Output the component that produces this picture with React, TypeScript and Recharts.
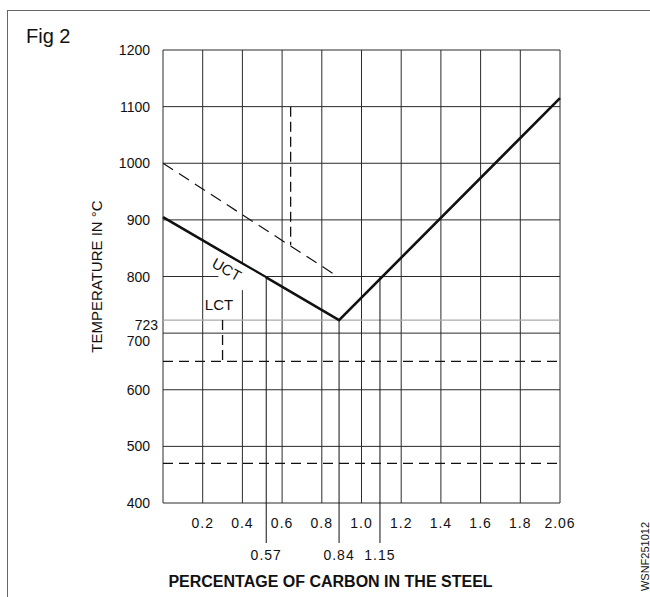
import { LineChart, Line, XAxis, YAxis } from 'recharts';

// grid positions (x is the drawn scale: right edge is labelled 2.06)
const gridX = [0, 0.2, 0.4, 0.6, 0.8, 1.0, 1.2, 1.4, 1.6, 1.8, 2.0];
const xTickLabels = ['0.2', '0.4', '0.6', '0.8', '1.0', '1.2', '1.4', '1.6', '1.8', '2.06'];
const gridY = [400, 500, 600, 700, 800, 900, 1000, 1100, 1200];
const lowerCritical = 723;

// marker lines dropping below the axis
const markerX = [0.52, 0.887, 1.093];
const markerLabels = ['0.57', '0.84', '1.15'];
const markerTop = [800, 723, 800];

// upper critical temperature line
const uctX = [0, 0.887, 2.0];
const uctY = [905, 723, 1115];

// dashed lines
const slopeX = [0, 0.88];
const slopeY = [1000, 800];
const dropX = 0.643;
const dropY = [1100, 855];
const lctX = 0.3;
const lctY = [723, 650];
const dashedLevels = [650, 470];

const uctLabelPos = { x: 0.32, y: 812 };
const lctLabelPos = { x: 0.282, y: 750 };

const FONT = '"Liberation Sans", Arial, Helvetica, sans-serif';
const INK = '#111';
const GRID = '#2a2a2a';

const seg = (x1: number, y1: number, x2: number, y2: number) => [
  { x: x1, y: y1 },
  { x: x2, y: y2 },
];

function YTick(props: any) {
  const { x, y, payload } = props;
  const v = payload.value;
  const dx = v === lowerCritical ? 8 : 0;
  const dy = v === lowerCritical ? 5 : v === 700 ? 8 : 0;
  return (
    <text x={x + dx} y={y + dy + 5} textAnchor="end" fontSize={14} fill={INK} fontFamily={FONT}>
      {v}
    </text>
  );
}

function XTick(props: any) {
  const { x, y, payload } = props;
  const v = payload.value;
  const mi = markerX.indexOf(v);
  if (mi >= 0) {
    return (
      <g>
        <line x1={x} x2={x} y1={y} y2={y + 40} stroke={INK} strokeWidth={1} />
        <text x={x} y={y + 57} textAnchor="middle" fontSize={14} fill={INK} fontFamily={FONT} letterSpacing={1}>
          {markerLabels[mi]}
        </text>
      </g>
    );
  }
  const gi = gridX.indexOf(v);
  if (gi <= 0) return null;
  return (
    <text x={x} y={y + 25} textAnchor="middle" fontSize={14} fill={INK} fontFamily={FONT} letterSpacing={1}>
      {xTickLabels[gi - 1]}
    </text>
  );
}

function UctLabel(props: any) {
  const { cx, cy } = props;
  if (cx == null || cy == null) return null;
  return (
    <g transform={`translate(${cx},${cy}) rotate(29.5)`}>
      <rect x={-20} y={-12} width={58} height={22} fill="#fff" />
      <text x={0} y={5} textAnchor="middle" fontSize={15} fill={INK} fontFamily={FONT}>
        UCT
      </text>
    </g>
  );
}

function LctLabel(props: any) {
  const { cx, cy } = props;
  if (cx == null || cy == null) return null;
  return (
    <text x={cx} y={cy + 5} textAnchor="middle" fontSize={15} fill={INK} fontFamily={FONT}>
      LCT
    </text>
  );
}

const common = {
  type: 'linear' as const,
  dataKey: 'y',
  isAnimationActive: false,
  dot: false,
  activeDot: false,
  legendType: 'none' as const,
};

export default function App() {
  return (
    <div style={{ position: 'absolute', left: 0, top: 0, width: 650, height: 597, overflow: 'hidden', background: '#fff' }}>
      <div
        style={{
          position: 'absolute',
          left: 7,
          top: 10,
          width: 700,
          height: 700,
          borderTop: '1px solid #666',
          borderLeft: '1px solid #666',
        }}
      />
      <div style={{ position: 'absolute', left: 0, top: 0 }}>
        <LineChart width={650} height={597} margin={{ top: 50, right: 90, bottom: 14, left: 113 }}>
          <XAxis
            dataKey="x"
            type="number"
            domain={[0, 2]}
            ticks={[...gridX.slice(1), ...markerX]}
            interval={0}
            tick={<XTick />}
            tickLine={false}
            axisLine={false}
            tickSize={0}
            tickMargin={0}
            height={80}
          />
          <YAxis
            type="number"
            domain={[400, 1200]}
            ticks={[...gridY, lowerCritical]}
            interval={0}
            tick={<YTick />}
            tickLine={false}
            axisLine={false}
            tickSize={0}
            tickMargin={13}
            width={50}
          />

          {gridX.map((gx) => (
            <Line key={`gx${gx}`} {...common} data={seg(gx, 400, gx, 1200)} stroke={GRID} strokeWidth={1} />
          ))}
          {gridY.map((gy) => (
            <Line key={`gy${gy}`} {...common} data={seg(0, gy, 2, gy)} stroke={GRID} strokeWidth={1} />
          ))}
          <Line {...common} data={seg(0, lowerCritical, 2, lowerCritical)} stroke="#aaa" strokeWidth={1.2} />

          {dashedLevels.map((lv) => (
            <Line key={`lv${lv}`} {...common} data={seg(0, lv, 2, lv)} stroke={INK} strokeWidth={1.2} strokeDasharray="10 6" />
          ))}

          {markerX.map((mx, i) => (
            <Line key={`mk${mx}`} {...common} data={seg(mx, markerTop[i], mx, 400)} stroke={INK} strokeWidth={1} />
          ))}

          <Line {...common} data={[uctLabelPos]} stroke="none" dot={<UctLabel />} />
          <Line {...common} data={[lctLabelPos]} stroke="none" dot={<LctLabel />} />

          <Line {...common} data={seg(slopeX[0], slopeY[0], slopeX[1], slopeY[1])} stroke={INK} strokeWidth={1.2} strokeDasharray="12 7" />
          <Line {...common} data={seg(dropX, dropY[0], dropX, dropY[1])} stroke={INK} strokeWidth={1.3} strokeDasharray="10 5" />
          <Line {...common} data={seg(lctX, lctY[0], lctX, lctY[1])} stroke={INK} strokeWidth={1.3} strokeDasharray="10 5" />

          <Line
            {...common}
            data={uctX.map((x, i) => ({ x, y: uctY[i] }))}
            stroke={INK}
            strokeWidth={2.6}
          />
        </LineChart>
      </div>
      <svg width={650} height={597} style={{ position: 'absolute', left: 0, top: 0, pointerEvents: 'none' }}>
        <text x={26} y={43} fontSize={20} fill={INK} fontFamily={FONT}>
          Fig 2
        </text>
        <text
          transform="translate(102,276.5) rotate(-90)"
          textAnchor="middle"
          fontSize={15}
          fill={INK}
          fontFamily={FONT}
        >
          TEMPERATURE IN °C
        </text>
        <text x={330.5} y={586.5} textAnchor="middle" fontSize={16} fontWeight="bold" fill={INK} fontFamily={FONT}>
          PERCENTAGE OF CARBON IN THE STEEL
        </text>
        <text
          transform="translate(649,556.5) rotate(-90)"
          textAnchor="middle"
          fontSize={11}
          fill={INK}
          fontFamily={FONT}
        >
          WSNF251012
        </text>
      </svg>
    </div>
  );
}
